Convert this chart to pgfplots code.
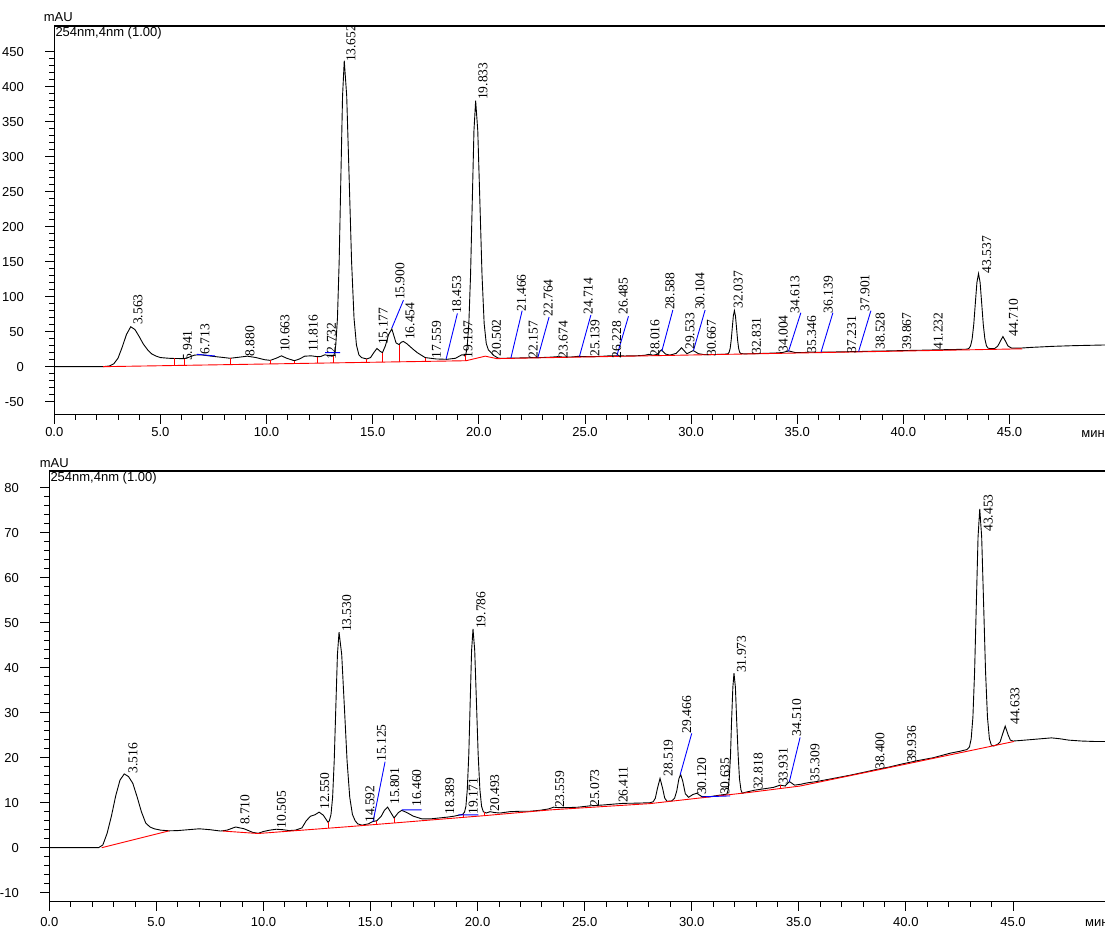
\documentclass[border=0pt]{standalone}
\usepackage{fontspec}
\setmainfont{Liberation Sans}
\newfontfamily\serifpk{Liberation Serif}
\usepackage{pgfplots}
\pgfplotsset{compat=1.18}
\tikzset{
 pk/.style={rotate=90, anchor=north west, inner sep=0pt, font=\serifpk\fontsize{13.5}{13.5}\selectfont},
 lbl/.style={font=\fontsize{13}{15}\selectfont, inner sep=0pt},
}
\pgfplotsset{
 chrom/.style={
  scale only axis, clip mode=individual,
  axis x line*=bottom, axis y line*=left,
  axis line style={line width=1.1pt,-},
  every tick/.style={black, line width=0.9pt},
  tick align=outside,
  major tick length=9pt, minor tick length=5pt,
  minor x tick num=4, minor y tick num=4,
  xtick={0,5,...,45},
  tick label style={font=\fontsize{13}{15}\selectfont},
  /pgf/number format/assume math mode=true,
  yticklabel style={xshift=-18pt},
 },
}
\begin{document}
\begin{tikzpicture}
% ---------------- TOP ----------------
\begin{axis}[chrom, anchor=south west, at={(54.3pt,513.3pt)},
  width=1050.7pt, height=388.7pt,
  xmin=0, xmax=49.5, ymin=-68.6, ymax=486.7,
  ytick={-50,0,...,450},
  xticklabel style={/pgf/number format/.cd, fixed, fixed zerofill, precision=1, /tikz/.cd, yshift=-0.5pt},
]
\addplot[black, line width=0.9pt] coordinates {
(0,0) (2.3,0) (2.6,1) (2.8,4) (3.0,12) (3.2,28) (3.4,46) (3.6,57) (3.8,53) (4.0,43) (4.2,32) (4.4,24) (4.6,18) (4.8,15) (5.0,13) (5.4,12) (5.66,11.7) (6.11,11.5) (6.3,13) (6.6,16.5) (6.9,17) (7.4,15) (8.0,13) (8.28,12) (8.7,13.5) (9.1,15) (9.5,13) (9.9,10) (10.17,9) (10.45,12) (10.7,15.5) (10.95,12) (11.31,8.5) (11.55,11) (11.8,15) (12.1,15.5) (12.39,14.3) (12.55,14.5) (12.75,17) (12.95,15.5) (13.1,15)
(13.18,16.7) (13.26,30.7) (13.34,69.5) (13.42,150) (13.50,270) (13.58,387) (13.66,437) (13.775,387) (13.89,270) (14.005,150) (14.12,69.5) (14.235,30.7) (14.35,17) (14.47,13) (14.72,11)
(14.9,13) (15.05,20) (15.2,26) (15.35,22) (15.46,20) (15.6,30) (15.75,46) (15.9,54) (16.02,42) (16.1,34) (16.24,31.5) (16.35,35) (16.45,36) (16.6,33) (16.9,25) (17.1,20) (17.47,13) (18.0,11) (18.5,10.5) (18.9,12) (19.2,17) (19.38,16)
(19.45,28) (19.53,62) (19.61,131) (19.69,235) (19.77,337) (19.85,380) (19.95,337) (20.05,235) (20.15,131) (20.25,62) (20.35,33) (20.45,24) (20.55,21) (20.7,16) (20.9,12.5)
(21.0,11.9) (21.5,12.2) (22.0,12.5) (22.5,12.9) (23.0,13.1) (23.4,13.6) (23.7,14.3) (24.0,13.7) (24.4,13.9) (24.7,14.8) (25.0,14.3) (25.4,14.3) (25.8,14.8) (26.2,15.6) (26.5,15.4) (26.9,15.3) (27.4,15.5) (27.8,16.2) (28.0,17.5) (28.2,16.3) (28.4,17.5) (28.6,24) (28.8,18) (29.0,16.5) (29.3,19) (29.55,27) (29.8,18.5) (30.1,23) (30.35,18.5) (30.6,17.3) (30.9,17.3) (31.3,17.5) (31.6,17.8)
(31.74,18.5) (31.79,20.5) (31.84,26) (31.89,38) (31.94,55.5) (31.99,72.5) (32.04,80) (32.09,72.5) (32.14,55.5) (32.19,38) (32.24,26) (32.29,20.5) (32.34,18.8) (32.5,18.3)
(33.0,18.6) (33.5,19.0) (34.0,19.6) (34.3,20.2) (34.6,22.5) (34.9,20.2) (35.3,20.2) (35.6,20.8) (36.0,20.6) (36.5,20.9) (37.0,21.1) (37.5,21.4) (38.0,21.7) (38.5,22.1) (39.0,22.3) (39.5,22.7) (40.0,23.0) (40.5,23.3) (41.0,23.6) (41.5,24.0) (42.0,24.3) (42.5,24.6) (43.0,25.0)
(43.09,26.2) (43.165,29.7) (43.24,39.6) (43.315,60) (43.39,90.5) (43.465,120.3) (43.54,133) (43.615,120.3) (43.69,90.5) (43.765,60) (43.84,39.6) (43.915,29.7) (43.99,26.5) (44.1,25.8)
(44.3,25.9) (44.45,29.5) (44.57,36.5) (44.69,43) (44.81,36.5) (44.93,29.5) (45.1,26.5) (45.5,26.5) (46.0,27.5) (47.0,29) (48.0,30) (49.5,31)
};
\addplot[red, line width=0.9pt] coordinates {(2.3,0) (19.4,8.5) (20.3,15) (20.85,11.5) (45.6,25.5)};
\addplot[red, line width=0.9pt, unbounded coords=jump] coordinates {
(5.66,1.7) (5.66,11.7) (5.66,nan) (6.11,1.9) (6.11,11.5) (6.11,nan) (8.28,3.0) (8.28,12) (8.28,nan)
(10.17,3.9) (10.17,9) (10.17,nan) (11.31,4.5) (11.31,8.5) (11.31,nan) (12.39,5.0) (12.39,14.3) (12.39,nan)
(13.15,5.4) (13.15,15) (13.15,nan) (14.72,6.2) (14.72,11) (14.72,nan) (15.46,6.6) (15.46,20) (15.46,nan)
(16.24,7.0) (16.24,31.5) (16.24,nan) (17.47,7.6) (17.47,13) (17.47,nan) (19.38,8.5) (19.38,16)};
\addplot[blue, line width=0.9pt, unbounded coords=jump] coordinates {
(6.71,17.7) (7.57,15.3) (7.57,nan) (12.76,20) (13.46,20) (13.46,nan) (15.9,55) (16.45,95) (16.45,nan)
(18.46,11) (18.99,76) (18.99,nan) (21.51,12.2) (22.04,80) (22.04,nan) (22.78,13) (23.31,71) (23.31,nan)
(24.74,14.6) (25.28,74) (25.28,nan) (26.5,15.4) (27.05,72) (27.05,nan) (28.62,22) (29.14,81) (29.14,nan)
(30.11,23) (30.66,81) (30.66,nan) (34.59,22) (35.17,77) (35.17,nan) (36.12,20.6) (36.68,77) (36.68,nan)
(37.89,21.6) (38.47,80)};
\draw[line width=1.1pt] (rel axis cs:0,1) -- (rel axis cs:1,1);
\node[lbl, anchor=north west, inner sep=1pt] at (rel axis cs:0,1) {254nm,4nm (1.00)};
\node[lbl, xshift=4pt, yshift=9pt] at (rel axis cs:0,1) {mAU};
\node[lbl, anchor=base east, yshift=-22.8pt] at (rel axis cs:1,0) {мин};
\node[pk] at (axis cs:3.72,59.6) {3.563};
\node[pk] at (axis cs:6.05,8) {5.941};
\node[pk] at (axis cs:6.87,17) {6.713};
\node[pk] at (axis cs:8.99,14.3) {8.880};
\node[pk] at (axis cs:10.64,21) {10.663};
\node[pk] at (axis cs:11.97,21) {11.816};
\node[pk] at (axis cs:12.84,9.6) {12.732};
\node[pk] at (axis cs:13.75,435) {13.652};
\node[pk] at (axis cs:15.27,31) {15.177};
\node[pk] at (axis cs:16.06,95) {15.900};
\node[pk] at (axis cs:16.53,38) {16.454};
\node[pk] at (axis cs:17.78,12) {17.559};
\node[pk] at (axis cs:18.73,76) {18.453};
\node[pk] at (axis cs:19.27,12) {19.197};
\node[pk] at (axis cs:19.97,381) {19.833};
\node[pk] at (axis cs:20.61,14.3) {20.502};
\node[pk] at (axis cs:21.79,78.6) {21.466};
\node[pk] at (axis cs:22.34,12) {22.157};
\node[pk] at (axis cs:23.04,71.4) {22.764};
\node[pk] at (axis cs:23.75,12) {23.674};
\node[pk] at (axis cs:24.93,74) {24.714};
\node[pk] at (axis cs:25.25,14) {25.139};
\node[pk] at (axis cs:26.27,12) {26.228};
\node[pk] at (axis cs:26.58,74) {26.485};
\node[pk] at (axis cs:28.07,14) {28.016};
\node[pk] at (axis cs:28.78,81) {28.588};
\node[pk] at (axis cs:29.72,24) {29.533};
\node[pk] at (axis cs:30.19,81) {30.104};
\node[pk] at (axis cs:30.74,14) {30.667};
\node[pk] at (axis cs:32.0,83) {32.037};
\node[pk] at (axis cs:32.86,17) {32.831};
\node[pk] at (axis cs:34.12,20) {34.004};
\node[pk] at (axis cs:34.67,76) {34.613};
\node[pk] at (axis cs:35.46,19) {35.346};
\node[pk] at (axis cs:36.24,76) {36.139};
\node[pk] at (axis cs:37.34,19) {37.231};
\node[pk] at (axis cs:37.97,78.6) {37.901};
\node[pk] at (axis cs:38.68,24) {38.528};
\node[pk] at (axis cs:39.93,24) {39.867};
\node[pk] at (axis cs:41.42,24) {41.232};
\node[pk] at (axis cs:43.7,133) {43.537};
\node[pk] at (axis cs:44.96,43) {44.710};
\end{axis}
% ---------------- BOTTOM ----------------
\begin{axis}[chrom, anchor=south west, at={(49.3pt,26.3pt)},
  width=1055.7pt, height=430.7pt,
  xmin=0, xmax=49.3, ymin=-12, ymax=83.7,
  ytick={-10,0,...,80},
  xticklabel style={/pgf/number format/.cd, fixed, fixed zerofill, precision=1, /tikz/.cd, yshift=-2.7pt},
]
\addplot[black, line width=0.9pt] coordinates {
(0,0) (2.3,0) (2.5,0.6) (2.7,3.2) (2.9,7) (3.1,11.5) (3.3,15) (3.5,16.4) (3.7,15.8) (3.9,14.3) (4.1,11.3) (4.3,8) (4.5,5.5) (4.7,4.6) (4.9,4.2) (5.2,3.9) (5.6,3.75) (6.0,3.8) (6.5,4.0) (7.0,4.2) (7.5,4.0) (8.0,3.7) (8.3,3.9) (8.7,4.6) (9.1,4.2) (9.5,3.4) (9.75,3.2) (10.0,3.6) (10.3,3.9) (10.6,4.1) (10.9,4.0) (11.2,3.8) (11.5,3.9) (11.8,4.4) (12.0,6) (12.2,7.0) (12.4,7.3) (12.6,7.9) (12.8,7.2) (13.02,5.6)
(13.08,6.0) (13.155,7.4) (13.23,11.2) (13.305,19.3) (13.38,31.2) (13.455,42.9) (13.53,47.9) (13.655,42.9) (13.78,31.2) (13.905,19.3) (14.03,11.2) (14.155,7.4) (14.28,6.0) (14.4,5.3)
(14.6,5.0) (14.9,5.3) (15.1,5.8) (15.3,6.0) (15.5,7.0) (15.65,8.3) (15.8,9.0) (15.95,7.8) (16.1,6.6) (16.3,7.8) (16.46,8.3) (16.7,7.8) (17.0,7.0) (17.4,6.4) (17.8,6.4) (18.2,6.6) (18.6,6.8) (18.9,7.0) (19.1,7.2) (19.3,7.4)
(19.39,7.9) (19.455,9.2) (19.52,13.0) (19.59,20.8) (19.655,32.4) (19.72,43.8) (19.786,48.6) (19.866,43.8) (19.946,32.4) (20.026,20.8) (20.106,13.0) (20.186,9.2) (20.266,8.0)
(20.4,7.7) (20.58,8.0) (20.8,7.8) (21.05,7.7) (21.5,8.0) (22.0,8.1) (22.45,8.1) (22.9,8.3) (23.3,8.6) (23.55,9.0) (23.8,8.9) (24.2,8.9) (24.7,9.0) (25.25,9.3) (25.9,9.5) (26.4,9.7) (26.8,9.85) (27.5,9.9) (28.06,10.0)
(28.2,10.2) (28.3,11.0) (28.4,13.2) (28.52,15.4) (28.64,13.2) (28.74,11.0) (28.85,10.3) (29.07,10.4) (29.2,11.0) (29.3,12.6) (29.4,15.3) (29.48,16.3) (29.58,14.8) (29.7,12.0) (29.85,11.2) (30.05,11.8) (30.24,12.1) (30.45,11.4) (30.8,11.3) (31.2,11.6) (31.5,11.8)
(31.64,11.9) (31.70,12.8) (31.75,15.3) (31.81,20.4) (31.86,28.1) (31.92,35.6) (31.973,38.8) (32.04,35.6) (32.10,28.1) (32.17,20.4) (32.23,15.3) (32.30,12.8) (32.36,12.1) (32.5,12.3)
(32.96,12.8) (33.4,13.1) (33.82,13.4) (34.13,13.9) (34.36,13.7) (34.56,14.7) (34.8,13.9) (35.1,14.1) (35.39,14.4) (35.84,14.7) (36.62,15.4) (37.39,16.1) (38.18,16.9) (38.64,17.4) (39.2,17.9) (39.73,18.5) (40.5,19.3) (41.29,20.0) (42.07,21.0) (42.5,21.4) (42.85,21.8) (42.97,22.4)
(43.05,24.2) (43.13,29.0) (43.21,39.2) (43.29,54.2) (43.37,69.0) (43.45,75.3) (43.54,69.0) (43.63,54.2) (43.72,39.2) (43.81,29.0) (43.90,24.2) (43.99,22.8) (44.1,22.6)
(44.3,23.0) (44.4,23.5) (44.5,25.0) (44.64,27.0) (44.78,25.0) (44.88,23.9) (45.0,23.7) (45.3,23.8) (45.8,24.0) (46.3,24.2) (46.8,24.4) (47.2,24.2) (47.6,23.9) (48.2,23.7) (48.8,23.6) (49.3,23.6)
};
\addplot[red, line width=0.9pt] coordinates {(2.45,0) (5.6,3.75)};
\addplot[red, line width=0.9pt] coordinates {(8.1,3.7) (9.75,3.15) (14.05,4.7) (20.27,7.1) (23.4,8.4) (28.06,9.8) (32.73,12.3) (35.06,13.7) (39.73,18.3) (45.05,23.6)};
\addplot[red, line width=0.9pt, unbounded coords=jump] coordinates {
(13.02,4.4) (13.02,5.6) (13.02,nan) (15.3,5.2) (15.3,6.0) (15.3,nan) (16.11,5.5) (16.11,6.6) (16.11,nan)
(19.34,6.8) (19.34,7.5) (19.34,nan) (20.3,7.1) (20.3,7.9) (20.3,nan) (34.13,13.2) (34.13,13.9)};
\addplot[blue, line width=0.9pt, unbounded coords=jump] coordinates {
(15.12,5.8) (15.68,19.1) (15.68,nan) (16.46,8.4) (17.39,8.4) (17.39,nan) (19.1,7.3) (20.04,7.3) (20.04,nan)
(29.46,16.2) (30.0,25.4) (30.0,nan) (30.47,11.3) (31.79,11.5) (31.79,nan) (34.56,14.7) (35.06,24.5)};
\draw[line width=1.1pt] (rel axis cs:0,1) -- (rel axis cs:1,1);
\node[lbl, anchor=north west, inner sep=1pt] at (rel axis cs:0,1) {254nm,4nm (1.00)};
\node[lbl, xshift=5pt, yshift=8pt] at (rel axis cs:0,1) {mAU};
\node[lbl, anchor=base west, yshift=-25.3pt] at (rel axis cs:0.981,0) {мин};
\node[pk] at (axis cs:3.69,16.5) {3.516};
\node[pk] at (axis cs:8.91,5.0) {8.710};
\node[pk] at (axis cs:10.62,4.3) {10.505};
\node[pk] at (axis cs:12.64,8.4) {12.550};
\node[pk] at (axis cs:13.67,47.9) {13.530};
\node[pk] at (axis cs:14.75,5.5) {14.592};
\node[pk] at (axis cs:15.29,19.1) {15.125};
\node[pk] at (axis cs:15.91,9.5) {15.801};
\node[pk] at (axis cs:16.93,9.1) {16.460};
\node[pk] at (axis cs:18.48,7.3) {18.389};
\node[pk] at (axis cs:19.57,7.3) {19.171};
\node[pk] at (axis cs:19.93,48.6) {19.786};
\node[pk] at (axis cs:20.58,8.0) {20.493};
\node[pk] at (axis cs:23.62,8.8) {23.559};
\node[pk] at (axis cs:25.25,9.1) {25.073};
\node[pk] at (axis cs:26.58,9.9) {26.411};
\node[pk] at (axis cs:28.68,15.8) {28.519};
\node[pk] at (axis cs:29.54,25.4) {29.466};
\node[pk] at (axis cs:30.24,11.7) {30.120};
\node[pk] at (axis cs:31.33,11.7) {30.635};
\node[pk] at (axis cs:32.1,38.8) {31.973};
\node[pk] at (axis cs:32.88,12.8) {32.818};
\node[pk] at (axis cs:34.05,13.9) {33.931};
\node[pk] at (axis cs:34.68,24.7) {34.510};
\node[pk] at (axis cs:35.53,14.7) {35.309};
\node[pk] at (axis cs:38.57,17.3) {38.400};
\node[pk] at (axis cs:40.05,18.8) {39.936};
\node[pk] at (axis cs:43.62,70.2) {43.453};
\node[pk] at (axis cs:44.87,27.3) {44.633};
\end{axis}
\pgfresetboundingbox
\path[use as bounding box] (0pt,0pt) rectangle (1105pt,928pt);
\end{tikzpicture}
\end{document}
